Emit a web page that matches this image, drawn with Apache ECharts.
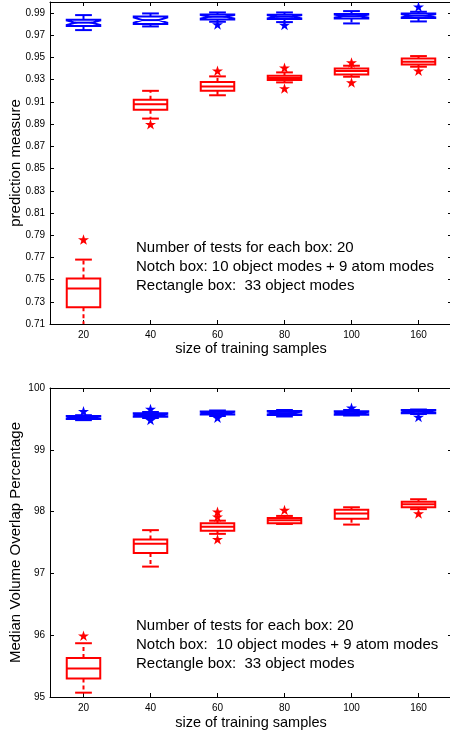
<!DOCTYPE html>
<html><head><meta charset="utf-8">
<script src="https://cdn.jsdelivr.net/npm/echarts@6/dist/echarts.min.js"></script>
<style>html,body{margin:0;padding:0;background:#fff}#c{width:450px;height:734px}</style>
</head><body><div id="c"></div>
<script>
const categories = ['20', '40', '60', '80', '100', '160'];

// each box: [lower whisker, Q1, median, Q3, upper whisker]
const topNotch = [
  [0.9747, 0.9783, 0.9814, 0.9841, 0.9882],
  [0.9780, 0.9801, 0.9837, 0.9870, 0.9897],
  [0.9822, 0.9843, 0.9867, 0.9888, 0.9906],
  [0.9819, 0.9846, 0.9867, 0.9885, 0.9906],
  [0.9807, 0.9852, 0.9873, 0.9891, 0.9918],
  [0.9825, 0.9855, 0.9876, 0.9897, 0.9912]
];
const topNotchOutliers = [[2, 0.9798], [3, 0.9792], [5, 0.9957]];
const topRect = [
  [0.700, 0.725, 0.742, 0.751, 0.768],
  [0.895, 0.903, 0.908, 0.912, 0.920],
  [0.916, 0.920, 0.924, 0.928, 0.933],
  [0.9276, 0.9297, 0.9316, 0.9335, 0.9366],
  [0.9327, 0.9348, 0.9378, 0.9402, 0.9426],
  [0.9417, 0.9438, 0.9462, 0.9492, 0.9513]
];
const topRectOutliers = [[0, 0.786], [1, 0.890], [2, 0.938], [3, 0.9407], [3, 0.9222], [4, 0.9456], [4, 0.9276], [5, 0.9381]];

const bottomNotch = [
  [99.480, 99.498, 99.523, 99.547, 99.560],
  [99.515, 99.536, 99.563, 99.591, 99.612],
  [99.547, 99.571, 99.595, 99.620, 99.636],
  [99.539, 99.563, 99.595, 99.628, 99.644],
  [99.555, 99.568, 99.595, 99.623, 99.644],
  [99.579, 99.591, 99.617, 99.644, 99.652]
];
const bottomNotchOutliers = [[0, 99.623], [1, 99.660], [1, 99.482], [2, 99.520], [4, 99.681], [5, 99.531]];
const bottomRect = [
  [95.07, 95.30, 95.46, 95.63, 95.87],
  [97.11, 97.33, 97.48, 97.55, 97.70],
  [97.64, 97.69, 97.756, 97.81, 97.853],
  [97.80, 97.81, 97.86, 97.896, 97.93],
  [97.79, 97.885, 97.97, 98.03, 98.07],
  [98.04, 98.07, 98.12, 98.16, 98.20]
];
const bottomRectOutliers = [[0, 95.99], [2, 97.998], [2, 97.917], [2, 97.552], [3, 98.026], [5, 97.97]];

const topYTicks = [0.71, 0.73, 0.75, 0.77, 0.79, 0.81, 0.83, 0.85, 0.87, 0.89, 0.91, 0.93, 0.95, 0.97, 0.99];
const bottomYTicks = [95, 96, 97, 98, 99, 100];

const annotation = [
  'Number of tests for each box: 20',
  'Notch box: 10 object modes + 9 atom modes',
  'Rectangle box:  33 object modes'
];
const annotation2 = [
  'Number of tests for each box: 20',
  'Notch box:  10 object modes + 9 atom modes',
  'Rectangle box:  33 object modes'
];

const FONT = '"Liberation Sans", Arial, Helvetica, sans-serif';
const BLUE = '#0000ff', RED = '#ff0000';
const STAR = 'path://M50 0 L61.23 34.55 L97.55 34.55 L68.17 55.9 L79.39 90.45 L50 69.1 L20.61 90.45 L31.83 55.9 L2.45 34.55 L38.77 34.55 Z';

function boxSeries(data, color, notched, axisIdx) {
  return {
    type: 'custom',
    xAxisIndex: axisIdx, yAxisIndex: axisIdx,
    data: data.map((d, i) => [i, d[0], d[1], d[2], d[3], d[4]]),
    encode: { x: 0, y: [1, 2, 3, 4, 5] },
    renderItem: function (params, api) {
      const idx = api.value(0);
      const cs = params.coordSys;
      const top = cs.y, bot = cs.y + cs.height;
      const ys = [1, 2, 3, 4, 5].map(k => api.coord([idx, api.value(k)])[1]);
      const cx = api.coord([idx, api.value(3)])[0];
      const band = api.size([1, 0])[0];
      const hw = band * 0.25, ch = hw * 0.5;
      const yMin = ys[0], yQ1 = ys[1], yMed = ys[2], yQ3 = ys[3], yMax = ys[4];
      const clampY = y => Math.max(top, Math.min(bot, y));
      const st = { stroke: color, lineWidth: 2, fill: null };
      const dash = { stroke: color, lineWidth: 2, lineDash: [4, 3] };
      const children = [];
      let medL = cx - hw, medR = cx + hw;
      if (notched) {
        const nh = 0.351 * (yQ1 - yQ3);
        const nLo = yMed + nh, nHi = yMed - nh;
        const ind = hw * 0.5;
        medL = cx - hw + ind; medR = cx + hw - ind;
        children.push({ type: 'polygon', shape: { points: [
          [cx - hw, yQ1], [cx - hw, nLo], [medL, yMed], [cx - hw, nHi], [cx - hw, yQ3],
          [cx + hw, yQ3], [cx + hw, nHi], [medR, yMed], [cx + hw, nLo], [cx + hw, yQ1]
        ] }, style: st });
      } else {
        children.push({ type: 'rect', shape: { x: cx - hw, y: yQ3, width: 2 * hw, height: yQ1 - yQ3 }, style: st });
      }
      children.push({ type: 'line', shape: { x1: medL, y1: yMed, x2: medR, y2: yMed }, style: st });
      // whiskers
      children.push({ type: 'line', shape: { x1: cx, y1: yQ3, x2: cx, y2: clampY(yMax) }, style: dash });
      children.push({ type: 'line', shape: { x1: cx, y1: yQ1, x2: cx, y2: clampY(yMin) }, style: dash });
      if (yMax >= top && yMax <= bot)
        children.push({ type: 'line', shape: { x1: cx - ch, y1: yMax, x2: cx + ch, y2: yMax }, style: st });
      if (yMin >= top && yMin <= bot)
        children.push({ type: 'line', shape: { x1: cx - ch, y1: yMin, x2: cx + ch, y2: yMin }, style: st });
      return { type: 'group', children: children };
    },
    z: 3
  };
}

function starSeries(data, color, axisIdx) {
  return {
    type: 'scatter', xAxisIndex: axisIdx, yAxisIndex: axisIdx,
    data: data, symbol: STAR, symbolSize: [11, 10.5],
    itemStyle: { color: color, opacity: 1 }, z: 4, silent: true
  };
}

const axisLineStyle = { show: true, lineStyle: { color: '#000', width: 1 } };

function xAxes(gridIndex, nameGap) {
  return [{
    gridIndex: gridIndex, type: 'category', data: categories, position: 'bottom',
    axisLine: axisLineStyle,
    axisTick: { show: true, inside: true, alignWithLabel: true, length: 4, lineStyle: { color: '#000' } },
    axisLabel: { color: '#000', fontSize: 10, margin: 6, fontFamily: FONT },
    name: 'size of training samples', nameLocation: 'middle', nameGap: nameGap, nameMoveOverlap: false,
    nameTextStyle: { color: '#000', fontSize: 14.5, fontFamily: FONT },
    splitLine: { show: false }
  }, {
    gridIndex: gridIndex, type: 'category', data: categories, position: 'top',
    axisLine: axisLineStyle,
    axisTick: { show: true, inside: true, alignWithLabel: true, length: 4, lineStyle: { color: '#000' } },
    axisLabel: { show: false }, splitLine: { show: false }
  }];
}

function yAxes(gridIndex, min, max, ticks, fmt, name, labelSize) {
  return [{
    gridIndex: gridIndex, type: 'value', min: min, max: max, position: 'left',
    axisLine: axisLineStyle,
    axisTick: { show: true, inside: true, length: 4, customValues: ticks, lineStyle: { color: '#000' } },
    axisLabel: { customValues: ticks, formatter: fmt, color: '#000', fontSize: labelSize, margin: 5, fontFamily: FONT },
    splitLine: { show: false },
    name: name, nameLocation: 'middle', nameGap: 27, nameRotate: 90, nameMoveOverlap: false,
    nameTextStyle: { color: '#000', fontSize: 15, fontFamily: FONT }
  }, {
    gridIndex: gridIndex, type: 'value', min: min, max: max, position: 'right',
    axisLine: axisLineStyle,
    axisTick: { show: true, inside: true, length: 4, customValues: ticks, lineStyle: { color: '#000' } },
    axisLabel: { show: false, customValues: ticks },
    splitLine: { show: false }
  }];
}

function textLines(lines, x, y0, step) {
  return lines.map((t, i) => ({
    type: 'text', x: x, y: y0 + i * step, z: 10,
    style: { text: t, fill: '#000', font: '15px ' + FONT, verticalAlign: 'middle', align: 'left' }
  }));
}

const chart = echarts.init(document.getElementById('c'), null, { renderer: 'canvas' });
const xa = xAxes(0, 17).concat(xAxes(1, 18));
const ya = yAxes(0, 0.71, 1.0, topYTicks, v => v.toFixed(2), 'prediction measure', 10)
  .concat(yAxes(1, 95, 100, bottomYTicks, v => String(v), 'Median Volume Overlap Percentage', 10));
chart.setOption({
  animation: false,
  backgroundColor: '#fff',
  grid: [
    { left: 50, top: 2, width: 402, height: 322, outerBoundsMode: 'none', containLabel: false },
    { left: 50, top: 388, width: 402, height: 309, outerBoundsMode: 'none', containLabel: false }
  ],
  xAxis: xa,
  yAxis: ya,
  series: [
    boxSeries(topRect, RED, false, 0),
    boxSeries(topNotch, BLUE, true, 0),
    starSeries(topRectOutliers, RED, 0),
    starSeries(topNotchOutliers, BLUE, 0),
    boxSeries(bottomRect, RED, false, 2),
    boxSeries(bottomNotch, BLUE, true, 2),
    starSeries(bottomRectOutliers, RED, 2),
    starSeries(bottomNotchOutliers, BLUE, 2)
  ],
  graphic: textLines(annotation, 136, 248, 19).concat(textLines(annotation2, 136, 626, 19))
});
</script>
</body></html>
